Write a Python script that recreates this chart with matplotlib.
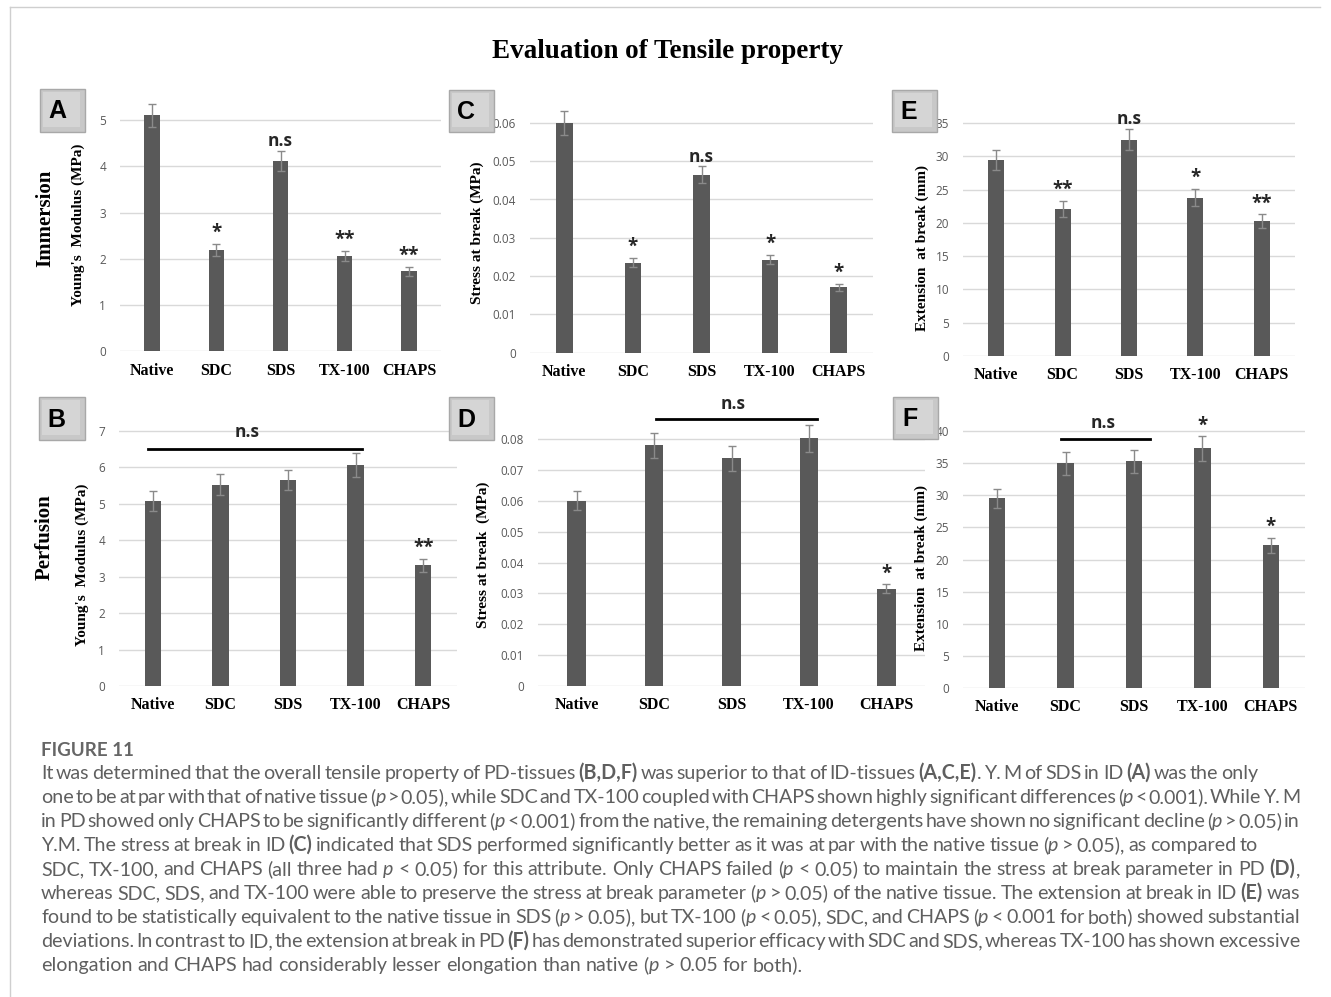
import re
import numpy as np
import matplotlib
matplotlib.use('Agg')
import matplotlib.pyplot as plt
from matplotlib.patches import Rectangle
from matplotlib.lines import Line2D
from matplotlib.transforms import Affine2D
from matplotlib.ticker import FuncFormatter

W, H = 1331, 997
fig = plt.figure(figsize=(W / 100, H / 100), dpi=100)
# pixel coordinates, origin top-left
pix = Affine2D().scale(1.0 / W, -1.0 / H).translate(0, 1) + fig.transFigure

groups = ['Native', 'SDC', 'SDS', 'TX-100', 'CHAPS']

# immersion decellularisation (ID)
ym_id = [5.10, 2.20, 4.12, 2.07, 1.73]
ym_id_err = [0.25, 0.13, 0.22, 0.11, 0.10]
ym_id_sig = ['', '*', 'n.s', '**', '**']

stress_id = [0.0600, 0.0235, 0.0465, 0.0243, 0.0170]
stress_id_err = [0.0031, 0.0012, 0.0022, 0.0012, 0.0009]
stress_id_sig = ['', '*', 'n.s', '*', '*']

ext_id = [29.5, 22.1, 32.5, 23.8, 20.3]
ext_id_err = [1.5, 1.2, 1.6, 1.3, 1.0]
ext_id_sig = ['', '**', 'n.s', '*', '**']

# perfusion decellularisation (PD)
ym_pd = [5.08, 5.53, 5.65, 6.07, 3.32]
ym_pd_err = [0.28, 0.30, 0.27, 0.32, 0.18]
ym_pd_sig = ['', '', '', '', '**']

stress_pd = [0.0600, 0.0780, 0.0737, 0.0802, 0.0315]
stress_pd_err = [0.0030, 0.0041, 0.0040, 0.0043, 0.0015]
stress_pd_sig = ['', '', '', '', '*']

ext_pd = [29.5, 35.0, 35.3, 37.3, 22.2]
ext_pd_err = [1.5, 1.8, 1.8, 1.9, 1.2]
ext_pd_sig = ['', '', '', '*', '*']

BAR = '#595959'
serif = 'Liberation Serif'
sans = 'Open Sans'


def fmt(v, pos):
    return '0' if abs(v) < 1e-12 else '%g' % v


def panel(left, right, y_zero, y_tick, top_tick, step, ymax,
          vals, errs, sigs, bracket=None):
    unit = (y_zero - y_tick) / top_tick
    top = y_zero - ymax * unit
    ax = fig.add_axes([left / W, 1 - y_zero / H, (right - left) / W, (y_zero - top) / H])
    x = np.arange(len(groups))
    ax.bar(x, vals, width=0.24, color=BAR, zorder=2)
    ax.errorbar(x, vals, yerr=errs, fmt='none', ecolor='#8a8a8a', elinewidth=1,
                capsize=2.6, capthick=1, zorder=3)
    ax.set_xlim(-0.5, len(groups) - 0.5)
    ax.set_ylim(0, ymax)
    ax.set_yticks(np.arange(0, top_tick + step / 2, step))
    ax.yaxis.set_major_formatter(FuncFormatter(fmt))
    ax.grid(axis='y', color='#d9d9d9', lw=1, zorder=0)
    ax.set_axisbelow(True)
    for s in ax.spines.values():
        s.set_visible(False)
    ax.tick_params(axis='both', length=0)
    ax.tick_params(axis='y', pad=10, labelsize=8.5, labelcolor='#595959')
    for t in ax.get_yticklabels():
        t.set_fontfamily(sans)
    ax.set_xticks(x)
    ax.set_xticklabels(groups, fontfamily=serif, fontweight='bold', fontsize=11.5)
    ax.tick_params(axis='x', pad=8)
    for xi, v, e, s in zip(x, vals, errs, sigs):
        if s:
            ax.annotate(s, (xi, v + e), xytext=(0, 0.5), textcoords='offset points',
                        ha='center', va='bottom', fontsize=12.5 if s == 'n.s' else 13.5,
                        fontweight='bold', fontfamily=sans, color='#262626',
                        annotation_clip=False)
    if bracket:
        x0, x1, yb, tx, ty = bracket
        ax.plot([x0, x1], [yb, yb], color='black', lw=2, clip_on=False, zorder=4)
        ax.text(tx, ty, 'n.s', ha='center', va='center', fontsize=12.5,
                fontweight='bold', fontfamily=sans, color='#262626', clip_on=False)
    return ax


panel(120, 441, 351.5, 120, 5, 1, 5.5, ym_id, ym_id_err, ym_id_sig)
panel(530, 873, 352.5, 123, 0.06, 0.01, 0.066, stress_id, stress_id_err, stress_id_sig)
panel(963, 1295, 356, 123, 35, 5, 38, ext_id, ext_id_err, ext_id_sig)
panel(119, 457, 686, 431, 7, 1, 7.4, ym_pd, ym_pd_err, ym_pd_sig,
      bracket=(-0.07, 3.09, 6.5, 1.4, 6.97))
panel(538, 925, 686, 439, 0.08, 0.01, 0.086, stress_pd, stress_pd_err, stress_pd_sig,
      bracket=(1.02, 3.1, 0.0865, 2.02, 0.0913))
panel(963, 1305, 688, 431, 40, 5, 42, ext_pd, ext_pd_err, ext_pd_sig,
      bracket=(0.93, 2.23, 38.75, 1.55, 41.2))

# axis titles
ylab = dict(transform=pix, rotation=90, ha='center', va='center',
            fontfamily=serif, fontweight='bold', fontsize=11, color='black')
fig.text(78, 225, "Young's  Modulus (MPa)", **ylab)
fig.text(477, 233, 'Stress at break (MPa)', **ylab)
fig.text(922, 248, 'Extension  at break (mm)', **ylab)
fig.text(82, 565, "Young's  Modulus (MPa)", **ylab)
fig.text(483, 555, 'Stress at break  (MPa)', **ylab)
fig.text(921, 568, 'Extension  at break (mm)', **ylab)

row = dict(transform=pix, rotation=90, ha='center', va='center',
           fontfamily=serif, fontweight='bold', fontsize=15, color='black')
fig.text(45, 218, 'Immersion', **row)
fig.text(45, 537, 'Perfusion', **row)

fig.text(668, 51, 'Evaluation of Tensile property', transform=pix, ha='center',
         va='center', fontfamily=serif, fontweight='bold', fontsize=19.5)

# panel letter boxes
boxes = {'A': (40, 89, 85, 132), 'C': (449, 90, 494, 132), 'E': (892, 90, 937, 132),
         'B': (39, 397, 85, 440), 'D': (449, 397, 494, 440), 'F': (893, 397, 938, 439)}
for letter, (x0, y0, x1, y1) in boxes.items():
    fig.patches.append(Rectangle((x0, y0), x1 - x0, y1 - y0, transform=pix,
                                 facecolor='#c8c8c8', edgecolor='#a8a8a8', lw=1))
    fig.patches.append(Rectangle((x0 + 3, y0 + 3), x1 - x0 - 8, y1 - y0 - 8, transform=pix,
                                 facecolor='#d5d5d5', edgecolor='none'))
    fig.text(x0 + 17, (y0 + y1) / 2 + 1, letter, transform=pix, ha='center', va='center',
             fontfamily='Liberation Sans', fontweight='bold', fontsize=18, color='black')

# thin frame round the figure
fig.lines.append(Line2D([9.5, 1320], [7.5, 7.5], transform=pix, color='#cfcfcf', lw=1))
fig.lines.append(Line2D([9.5, 9.5], [7.5, 997], transform=pix, color='#cfcfcf', lw=1))

# caption
cap_color = '#5f5f5f'
fig.text(41, 756, 'FIGURE 11', transform=pix, ha='left', va='baseline',
         fontfamily='Lato', fontweight='bold', fontsize=13.5, color='#666666')

caption = [
    ("It was determined that the overall tensile property of PD-tissues **(B,D,F)** was superior "
     "to that of ID-tissues **(A,C,E)**. Y. M of SDS in ID **(A)** was the only", 1258),
    ("one to be at par with that of native tissue (_p_ > 0.05), while SDC and TX-100 coupled with "
     "CHAPS shown highly significant differences (_p_ < 0.001). While Y. M", 1300),
    ("in PD showed only CHAPS to be significantly different (_p_ < 0.001) from the native, the "
     "remaining detergents have shown no significant decline (_p_ > 0.05) in", 1300),
    ("Y.M. The stress at break in ID **(C)** indicated that SDS performed significantly better as "
     "it was at par with the native tissue (_p_ > 0.05), as compared to", 1258),
    ("SDC, TX-100, and CHAPS (all three had _p_ < 0.05) for this attribute. Only CHAPS failed "
     "(_p_ < 0.05) to maintain the stress at break parameter in PD **(D)**,", 1300),
    ("whereas SDC, SDS, and TX-100 were able to preserve the stress at break parameter "
     "(_p_ > 0.05) of the native tissue. The extension at break in ID **(E)** was", 1300),
    ("found to be statistically equivalent to the native tissue in SDS (_p_ > 0.05), but TX-100 "
     "(_p_ < 0.05), SDC, and CHAPS (_p_ < 0.001 for both) showed substantial", 1300),
    ("deviations. In contrast to ID, the extension at break in PD **(F)** has demonstrated "
     "superior efficacy with SDC and SDS, whereas TX-100 has shown excessive", 1300),
    ("elongation and CHAPS had considerably lesser elongation than native (_p_ > 0.05 for both).", 803),
]

renderer = fig.canvas.get_renderer()
x_left = 41


def width(t):
    return t.get_window_extent(renderer).width


def split_word(word):
    parts = []
    for piece in re.split(r'(\*\*.+?\*\*|_.+?_)', word):
        if not piece:
            continue
        if piece.startswith('**') and piece.endswith('**') and len(piece) > 4:
            parts.append((piece[2:-2], dict(fontweight='bold')))
        elif piece.startswith('_') and piece.endswith('_') and len(piece) > 2:
            parts.append((piece[1:-1], dict(fontstyle='italic')))
        else:
            parts.append((piece, {}))
    return parts


# size the body font so the last (unjustified) line ends where it should
probe = fig.text(0, 0, caption[-1][0].replace('_', ''), transform=pix,
                 fontfamily='Lato', fontsize=12)
cap_size = 12 * (caption[-1][1] - x_left) / width(probe)
probe.remove()
cap_kw = dict(transform=pix, va='baseline', ha='left', fontfamily='Lato',
              fontsize=cap_size, color=cap_color)

for i, (line, right) in enumerate(caption):
    y = 779 + 24 * i
    words = []
    for word in line.split(' '):
        arts = [fig.text(0, y, txt, **cap_kw, **extra) for txt, extra in split_word(word)]
        words.append((arts, sum(width(a) for a in arts)))
    total = sum(w for _, w in words)
    gap = (right - x_left - total) / (len(words) - 1)
    xpos = x_left
    for arts, w in words:
        xx = xpos
        for a in arts:
            a.set_x(xx)
            xx += width(a)
        xpos += w + gap

fig.savefig('out.png', dpi=100)
